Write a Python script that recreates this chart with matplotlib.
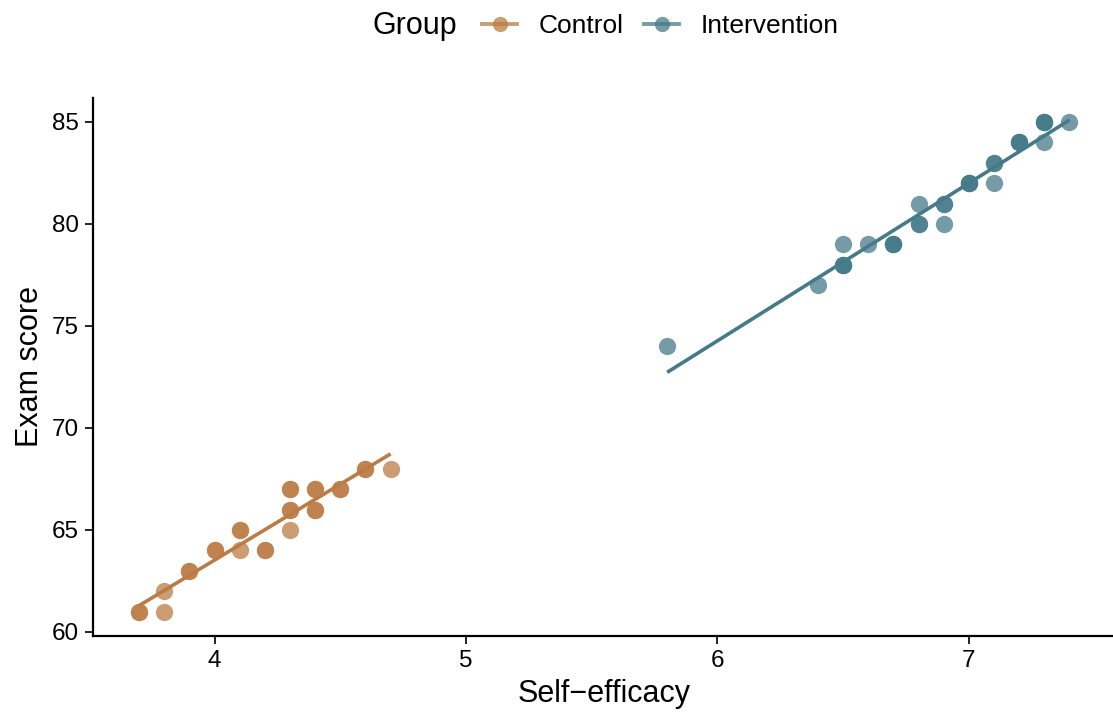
import numpy as np
import matplotlib
matplotlib.use("Agg")
import matplotlib.pyplot as plt
from matplotlib.lines import Line2D

plt.rcParams["font.family"] = ["Liberation Sans", "DejaVu Sans"]

# Self-efficacy vs exam score, by group
control_x = [3.7, 3.7, 3.8, 3.8, 3.9, 3.9, 4.0, 4.0, 4.1, 4.1, 4.1, 4.2, 4.2,
             4.3, 4.3, 4.3, 4.3, 4.3, 4.4, 4.4, 4.4, 4.4, 4.5, 4.5, 4.6, 4.6, 4.7]
control_y = [61, 61, 61, 62, 63, 63, 64, 64, 65, 65, 64, 64, 64,
             67, 67, 66, 66, 65, 67, 67, 66, 66, 67, 67, 68, 68, 68]

interv_x = [5.8, 6.4, 6.5, 6.5, 6.5, 6.5, 6.6, 6.7, 6.7, 6.7, 6.8, 6.8, 6.8,
            6.9, 6.9, 6.9, 7.0, 7.0, 7.0, 7.1, 7.1, 7.1, 7.2, 7.2, 7.2,
            7.3, 7.3, 7.3, 7.3, 7.4]
interv_y = [74, 77, 79, 78, 78, 78, 79, 79, 79, 79, 81, 80, 80,
            81, 81, 80, 82, 82, 82, 83, 83, 82, 84, 84, 84,
            85, 85, 85, 84, 85]

groups = ["Control", "Intervention"]
colors = ["#BC7B44", "#457A89"]
x_ticks = [4, 5, 6, 7]
y_ticks = [60, 65, 70, 75, 80, 85]

W, H = 1113, 713
fig = plt.figure(figsize=(W / 100, H / 100), dpi=100)
ax = fig.add_axes([92.6 / W, (H - 636) / H, (1116 - 92.6) / W, (636 - 97.5) / H])

for gx, gy, col in [(control_x, control_y, colors[0]), (interv_x, interv_y, colors[1])]:
    gx = np.asarray(gx, float)
    gy = np.asarray(gy, float)
    ax.scatter(gx, gy, s=155, color=col, alpha=0.75, linewidths=0, zorder=2)
    slope, icpt = np.polyfit(gx, gy, 1)
    xs = np.array([gx.min(), gx.max()])
    ax.plot(xs, icpt + slope * xs, color=col, lw=2.6, zorder=3,
            solid_capstyle="butt")

ax.set_xlim(3.515, 7.585)
ax.set_ylim(59.8, 86.2)
ax.set_xticks(x_ticks)
ax.set_yticks(y_ticks)
ax.tick_params(labelsize=17.5, length=6, width=1.4, color="#222222", pad=4)
for side in ["top", "right"]:
    ax.spines[side].set_visible(False)
for side in ["left", "bottom"]:
    ax.spines[side].set_linewidth(1.6)
ax.set_xlabel("Self\u2212efficacy", fontsize=22, labelpad=5)
ax.set_ylabel("Exam score", fontsize=22, labelpad=5)

# Legend across the top
fig.text(373 / W, 1 - 26 / H, "Group", fontsize=22, ha="left", va="center")
handles = [Line2D([0], [0], color=c, lw=2.8, marker="o", markersize=11,
                  markeredgewidth=0, alpha=0.75) for c in colors]
fig.legend(handles, groups, loc="center left", bbox_to_anchor=(482 / W, 1 - 26 / H),
           ncol=2, frameon=False, fontsize=19, handlelength=1.33,
           handletextpad=0.8, columnspacing=0.8, borderaxespad=0, borderpad=0)

fig.savefig("out.png", dpi=100)
